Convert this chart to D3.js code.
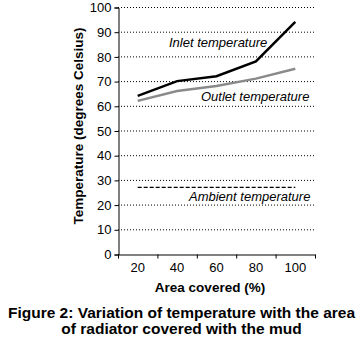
<!DOCTYPE html>
<html lang="en">
<head>
<meta charset="UTF-8">
<title>Temperature vs area covered</title>
<script src="https://d3js.org/d3.v7.min.js"></script>
<style>
  body { margin: 0; background: #fff; }
  text { font-family: "Liberation Sans", Arial, sans-serif; fill: #000; }
  .grid line { stroke: #000; stroke-width: 1; stroke-dasharray: 1,2; }
</style>
</head>
<body>
<svg width="363" height="341"></svg>
<script>
// data
const areas = ["20", "40", "60", "80", "100"];
const inlet = [64, 70, 72, 78, 94];
const outlet = [62, 66, 68, 71, 75];
const ambient = [27, 27, 27, 27, 27];
const yTicks = [0, 10, 20, 30, 40, 50, 60, 70, 80, 90, 100];

const svg = d3.select("svg");
const plotL = 118, plotR = 315, plotT = 7, plotB = 254;

const x = d3.scaleBand().domain(areas).range([plotL, plotR]);
const y = d3.scaleLinear().domain([0, 100]).range([plotB, plotT]);

// dotted grid
svg.append("g").attr("class", "grid")
  .selectAll("line").data(yTicks.filter(d => d > 0)).enter().append("line")
  .attr("x1", plotL).attr("x2", plotR)
  .attr("y1", d => y(d) + 0.5).attr("y2", d => y(d) + 0.5);

// axes
const yAxis = svg.append("g").attr("transform", `translate(${plotL + 0.5},0.5)`)
  .call(d3.axisLeft(y).tickValues(yTicks).tickSize(4).tickPadding(3));
yAxis.selectAll("text").style("font-size", "13px");

const xAxis = svg.append("g").attr("transform", `translate(0,${plotB + 0.5})`)
  .call(d3.axisBottom(x).tickSize(0).tickPadding(8));
xAxis.selectAll("text").style("font-size", "13px");
// tick marks sit on band edges
xAxis.selectAll(".edge").data(areas.concat(["end"])).enter().append("line")
  .attr("class", "edge")
  .attr("x1", (d, i) => plotL + i * x.step() + 0.5)
  .attr("x2", (d, i) => plotL + i * x.step() + 0.5)
  .attr("y1", 0).attr("y2", 4).attr("stroke", "#000");
svg.selectAll(".domain").attr("stroke", "#000");

const cx = d => x(d) + x.bandwidth() / 2;
const line = vals => d3.line().x((d, i) => cx(areas[i])).y(d => y(d))(vals);

svg.append("path").attr("d", line(outlet))
  .attr("fill", "none").attr("stroke", "#8a8a8a").attr("stroke-width", 2.5);
svg.append("path").attr("d", line(inlet))
  .attr("fill", "none").attr("stroke", "#000").attr("stroke-width", 2.5);
svg.append("path").attr("d", line(ambient))
  .attr("fill", "none").attr("stroke", "#000").attr("stroke-width", 1.2)
  .attr("stroke-dasharray", "4,2");

// series labels
const labels = [
  { t: "Inlet temperature", x: 169, v: 84 },
  { t: "Outlet temperature", x: 201, v: 62 },
  { t: "Ambient temperature", x: 189, v: 21.5 }
];
svg.selectAll(".lab").data(labels).enter().append("text")
  .attr("class", "lab")
  .attr("x", d => d.x).attr("y", d => y(d.v))
  .style("font-size", "13px").style("font-style", "italic")
  .text(d => d.t);

// axis titles
svg.append("text")
  .attr("transform", `translate(83,126) rotate(-90)`)
  .attr("text-anchor", "middle")
  .style("font-size", "13.5px").style("font-weight", "bold")
  .text("Temperature (degrees Celsius)");
svg.append("text")
  .attr("x", 210).attr("y", 292).attr("text-anchor", "middle")
  .style("font-size", "13.5px").style("font-weight", "bold")
  .text("Area covered (%)");

// caption
svg.append("text").attr("x", 181.5).attr("y", 318).attr("text-anchor", "middle")
  .style("font-size", "15.5px").style("font-weight", "bold")
  .text("Figure 2: Variation of temperature with the area");
svg.append("text").attr("x", 181.5).attr("y", 334).attr("text-anchor", "middle")
  .style("font-size", "15.5px").style("font-weight", "bold")
  .text("of radiator covered with the mud");
</script>
</body>
</html>
